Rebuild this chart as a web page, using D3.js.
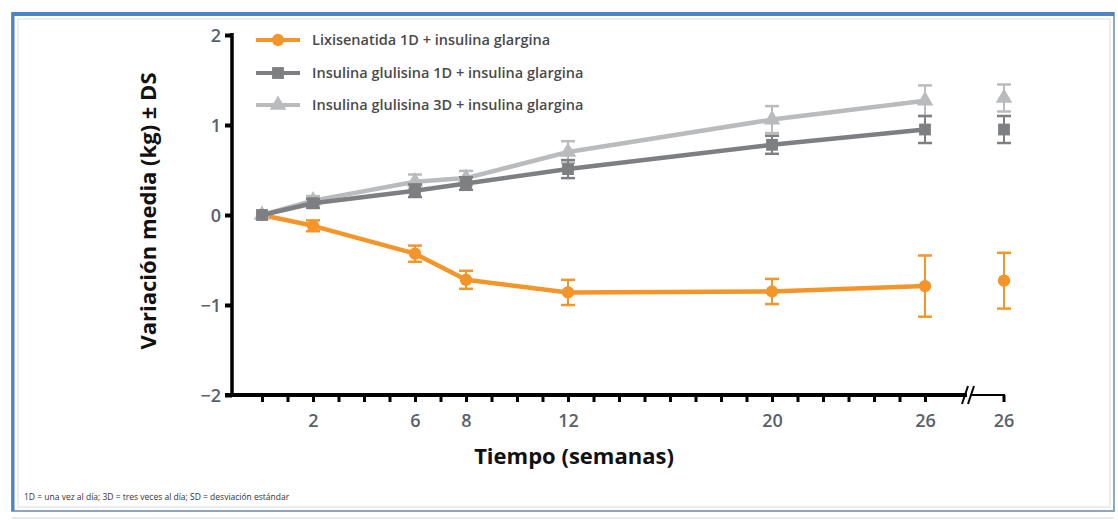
<!DOCTYPE html>
<html>
<head>
<meta charset="utf-8">
<script src="https://cdn.jsdelivr.net/npm/d3@7"></script>
<style>
  html, body { margin: 0; padding: 0; background: #fff; }
  svg { display: block; }
</style>
</head>
<body>
<svg id="chart" width="1118" height="520"></svg>
<script>
// Semanas de seguimiento
const weeks = [0, 2, 6, 8, 12, 20, 26];
const xTickLabels = [2, 6, 8, 12, 20, 26];
const yTicks = [-2, -1, 0, 1, 2];

// Variación media del peso (kg) y desviación estándar por grupo
const lixiMean = [0, -0.12, -0.43, -0.72, -0.86, -0.85, -0.79];
const lixiSD   = [0, 0.06, 0.09, 0.10, 0.14, 0.14, 0.34];
const glu1Mean = [0, 0.13, 0.27, 0.35, 0.51, 0.78, 0.95];
const glu1SD   = [0, 0.05, 0.07, 0.07, 0.10, 0.10, 0.15];
const glu3Mean = [0, 0.16, 0.37, 0.41, 0.70, 1.06, 1.27];
const glu3SD   = [0, 0.05, 0.08, 0.08, 0.12, 0.15, 0.17];

// Valor final (semana 26, población completa) tras el corte del eje
const finalMean = [-0.73, 0.95, 1.30];
const finalSD   = [0.31, 0.15, 0.15];

const seriesNames = [
  "Lixisenatida 1D + insulina glargina",
  "Insulina glulisina 1D + insulina glargina",
  "Insulina glulisina 3D + insulina glargina"
];
const seriesColors = ["#f4952a", "#7d7f82", "#b9bbbd"];
const seriesShapes = [d3.symbolCircle, d3.symbolSquare, d3.symbolTriangle];
const seriesSizes = [120, 140, 120];

const svg = d3.select("#chart");

// Marco
svg.append("rect").attr("x", 12).attr("y", 13).attr("width", 1102).attr("height", 498)
  .attr("fill", "#fff").attr("stroke", "#8fa6bb").attr("stroke-width", 2);
svg.append("line").attr("x1", 12).attr("x2", 1114).attr("y1", 14).attr("y2", 14)
  .attr("stroke", "#4d82c4").attr("stroke-width", 4);
svg.append("line").attr("x1", 13).attr("x2", 13).attr("y1", 13).attr("y2", 511)
  .attr("stroke", "#4d82c4").attr("stroke-width", 3);
svg.append("rect").attr("x", 18).attr("y", 19).attr("width", 1092).attr("height", 488)
  .attr("fill", "none").attr("stroke", "#d6dde4").attr("stroke-width", 1);
svg.append("line").attr("x1", 12).attr("x2", 1114).attr("y1", 518).attr("y2", 518)
  .attr("stroke", "#ccd5de").attr("stroke-width", 1);

const x = d3.scaleLinear().domain([0, 26]).range([262, 925]);
const y = d3.scaleLinear().domain([-2, 2]).range([395, 35]);
const breakGap = 79;
const xFinal = x(26) + breakGap;

const tickFill = "#59616d";
const font = "'Open Sans', 'Liberation Sans', sans-serif";

// Eje Y
const yAxis = svg.append("g").attr("transform", `translate(232,0)`)
  .call(d3.axisLeft(y).tickValues(yTicks).tickSize(7)
    .tickFormat(d => d < 0 ? "\u2212" + Math.abs(d) : String(d)));
yAxis.select(".domain").remove();
yAxis.selectAll(".tick line").attr("stroke", "#000").attr("stroke-width", 4);
yAxis.selectAll(".tick text").attr("fill", tickFill).attr("font-size", 18).attr("font-weight", 600)
  .attr("font-family", font).attr("x", -11).attr("dy", "0.35em");
svg.append("line").attr("x1", 232).attr("x2", 232).attr("y1", y(2) - 2).attr("y2", y(-2))
  .attr("stroke", "#000").attr("stroke-width", 3.5);

// Eje X
const xAxis = svg.append("g").attr("transform", `translate(0,${y(-2)})`)
  .call(d3.axisBottom(x).tickValues(d3.range(0, 27)).tickSize(7)
    .tickFormat(d => xTickLabels.includes(d) ? String(d) : ""));
xAxis.select(".domain").remove();
xAxis.selectAll(".tick line").attr("stroke", "#000").attr("stroke-width", 3);
xAxis.selectAll(".tick text").attr("fill", tickFill).attr("font-size", 18).attr("font-weight", 600)
  .attr("font-family", font).attr("y", 19);
svg.append("line").attr("x1", 225).attr("x2", 967).attr("y1", y(-2)).attr("y2", y(-2))
  .attr("stroke", "#000").attr("stroke-width", 4);
// Tramo tras el corte
svg.append("line").attr("x1", 970).attr("x2", xFinal + 1).attr("y1", y(-2)).attr("y2", y(-2))
  .attr("stroke", "#000").attr("stroke-width", 2);
svg.append("line").attr("x1", xFinal).attr("x2", xFinal).attr("y1", y(-2)).attr("y2", y(-2) + 7)
  .attr("stroke", "#000").attr("stroke-width", 3);
svg.append("text").attr("x", xFinal).attr("y", y(-2) + 19).attr("dy", "0.71em")
  .attr("text-anchor", "middle").attr("fill", tickFill).attr("font-size", 18).attr("font-weight", 600)
  .attr("font-family", font).text("26");
// Símbolo de corte //
[962, 968].forEach(bx => {
  svg.append("line").attr("x1", bx).attr("x2", bx + 6).attr("y1", y(-2) + 9).attr("y2", y(-2) - 9)
    .attr("stroke", "#000").attr("stroke-width", 2);
});

// Títulos de los ejes
svg.append("text").attr("x", 574).attr("y", 464).attr("text-anchor", "middle")
  .attr("font-family", font).attr("font-weight", "bold").attr("font-size", 22)
  .attr("fill", "#111").text("Tiempo (semanas)");
svg.append("text").attr("transform", "translate(156,211) rotate(-90)").attr("text-anchor", "middle")
  .attr("font-family", font).attr("font-weight", "bold").attr("font-size", 22)
  .attr("fill", "#111").text("Variación media (kg) ± DS");

// Series
const means = [lixiMean, glu1Mean, glu3Mean];
const sds = [lixiSD, glu1SD, glu3SD];
const line = d3.line().x(d => x(d.w)).y(d => y(d.m));
const capW = 7;

function errorBar(g, cx, m, s, color) {
  if (s <= 0) return;
  g.append("line").attr("x1", cx).attr("x2", cx).attr("y1", y(m + s)).attr("y2", y(m - s))
    .attr("stroke", color).attr("stroke-width", 2);
  [m + s, m - s].forEach(v => {
    g.append("line").attr("x1", cx - capW).attr("x2", cx + capW).attr("y1", y(v)).attr("y2", y(v))
      .attr("stroke", color).attr("stroke-width", 2.5);
  });
}

// Orden de dibujo: naranja debajo, después los grupos de insulina glulisina
[0, 2, 1].forEach(i => {
  const color = seriesColors[i];
  const g = svg.append("g");
  const pts = weeks.map((w, k) => ({ w, m: means[i][k], s: sds[i][k] }));
  pts.forEach(p => errorBar(g, x(p.w), p.m, p.s, color));
  g.append("path").datum(pts).attr("d", line).attr("fill", "none")
    .attr("stroke", color).attr("stroke-width", 4.5).attr("stroke-linejoin", "round");
  const sym = d3.symbol().type(seriesShapes[i]).size(seriesSizes[i]);
  g.selectAll("path.pt").data(pts).enter().append("path").attr("class", "pt")
    .attr("d", sym).attr("fill", color)
    .attr("transform", p => `translate(${x(p.w)},${y(p.m)})`);
  errorBar(g, xFinal, finalMean[i], finalSD[i], color);
  g.append("path").attr("d", sym).attr("fill", color)
    .attr("transform", `translate(${xFinal},${y(finalMean[i])})`);
});

// Leyenda
const legendY = [40, 73, 105];
seriesNames.forEach((name, i) => {
  const g = svg.append("g").attr("transform", `translate(0,${legendY[i]})`);
  g.append("line").attr("x1", 256).attr("x2", 300).attr("stroke", seriesColors[i]).attr("stroke-width", 4);
  g.append("path").attr("d", d3.symbol().type(seriesShapes[i]).size(seriesSizes[i])())
    .attr("transform", "translate(278,0)").attr("fill", seriesColors[i]);
  g.append("text").attr("x", 312).attr("dy", "0.35em").attr("font-family", font)
    .attr("font-size", 14.5).attr("font-weight", 600).attr("fill", "#4a4a4a").text(name);
});

// Nota al pie
svg.append("text").attr("x", 24).attr("y", 500).attr("font-family", font).attr("font-size", 8.5)
  .attr("fill", "#333").text("1D = una vez al día; 3D = tres veces al día; SD = desviación estándar");
</script>
</body>
</html>
